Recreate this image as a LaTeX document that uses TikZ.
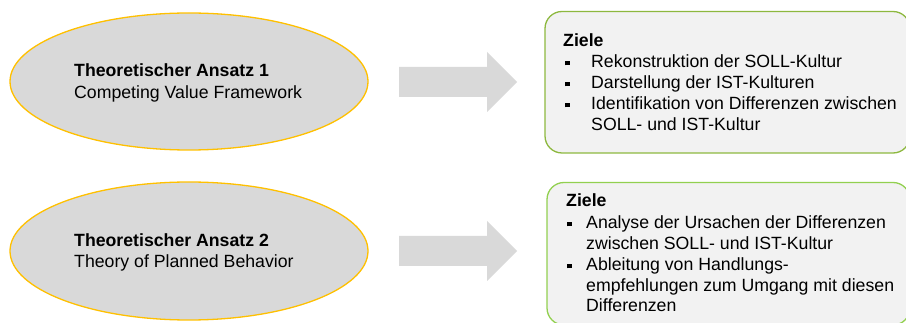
\documentclass[tikz,border=0pt]{standalone}
\usepackage{fontspec}
\setmainfont{Liberation Sans}
\usetikzlibrary{shapes.geometric}

\definecolor{ovalfill}{HTML}{D9D9D9}
\definecolor{ovalline}{HTML}{FFC000}
\definecolor{boxfill}{HTML}{F2F2F2}
\definecolor{boxlineA}{HTML}{8DB83F}
\definecolor{boxlineB}{HTML}{92D050}
\definecolor{arrowfill}{HTML}{D9D9D9}

\newcommand{\bsq}{\rule[2.6pt]{4.8pt}{4.8pt}}

\tikzset{
  oval/.style={ellipse, draw=ovalline, fill=ovalfill, line width=1.3pt,
    minimum width=358pt, minimum height=137pt, inner sep=0pt},
  bigarrow/.style={fill=arrowfill, draw=none},
  goalbox/.style={draw, fill=boxfill, line width=1.3pt, rounded corners=17pt},
  txt/.style={anchor=base west, inner sep=0pt, font=\fontsize{17.7pt}{21pt}\selectfont},
  bul/.style={anchor=base west, inner sep=0pt, font=\fontsize{17.7pt}{21pt}\selectfont}
}

\begin{document}
\begin{tikzpicture}[x=1pt,y=-1pt]
\useasboundingbox (0,0) rectangle (906,323);

% approach ovals
\node[oval] (o1) at (189,81.5) {};
\node[oval, minimum height=138pt] (o2) at (189,251) {};

\node[txt] (o1a) at (74,77) {\textbf{Theoretischer Ansatz 1}};
\node[txt] (o1b) at (74,99) {Competing Value Framework};
\node[txt] (o2a) at (74,247) {\textbf{Theoretischer Ansatz 2}};
\node[txt] (o2b) at (74,268) {Theory of Planned Behavior};

% block arrows: tail at (x,y), shaft 30 high, head 60 high, total length 118
\foreach \nm/\y in {a1/82, a2/251} {
  \coordinate (\nm) at (399,\y);
  \fill[bigarrow] (\nm) ++(0,-15) -- ++(88,0) -- ++(0,-15) -- ++(30,30)
     -- ++(-30,30) -- ++(0,-15) -- ++(-88,0) -- cycle;
}

% goal boxes (run past the right and lower edges)
\begin{scope}
\clip (0,0) rectangle (906,323);
\draw[goalbox, draw=boxlineA] (545,11.5) rectangle (910,153);
\draw[goalbox, draw=boxlineB] (547,182.5) rectangle (910,325);
\end{scope}

% goals, first box
\node[txt] (g1h) at (563,47) {\textbf{Ziele}};
\node[bul] (g1b1) at (565,68) {\bsq};
\node[txt] (g1t1) at (591,68) {Rekonstruktion der SOLL-Kultur};
\node[bul] (g1b2) at (565,89) {\bsq};
\node[txt] (g1t2) at (591,89) {Darstellung der IST-Kulturen};
\node[bul] (g1b3) at (565,110) {\bsq};
\node[txt] (g1t3) at (591,110) {Identifikation von Differenzen zwischen};
\node[txt] (g1t3b) at (591,131) {SOLL- und IST-Kultur};

% goals, second box
\node[txt] (g2h) at (566,207) {\textbf{Ziele}};
\node[bul] (g2b1) at (567,229) {\bsq};
\node[txt] (g2t1) at (586,229) {Analyse der Ursachen der Differenzen};
\node[txt] (g2t1b) at (586,250) {zwischen SOLL- und IST-Kultur};
\node[bul] (g2b2) at (567,271) {\bsq};
\node[txt] (g2t2) at (586,271) {Ableitung von Handlungs-};
\node[txt] (g2t2b) at (586,292) {empfehlungen zum Umgang mit diesen};
\node[txt] (g2t2c) at (586,312) {Differenzen};
\end{tikzpicture}
\end{document}
